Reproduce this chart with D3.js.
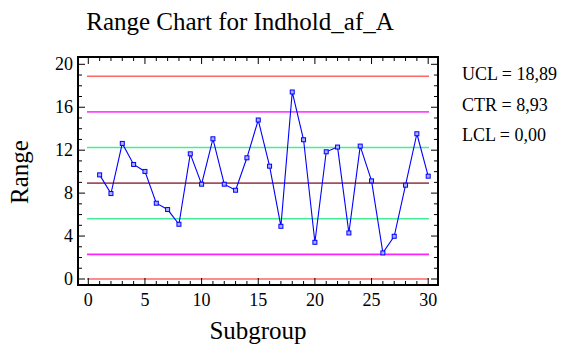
<!DOCTYPE html>
<html><head><meta charset="utf-8">
<script src="https://cdn.jsdelivr.net/npm/d3@7"></script>
<style>body{margin:0;background:#fff}svg{display:block}</style>
</head><body>
<script>
const subgroups = d3.range(1, 31);
const ranges = [9.70,7.96,12.63,10.67,10.02,7.06,6.47,5.10,11.66,8.83,13.06,8.83,8.27,11.29,14.81,10.51,4.91,17.42,12.97,3.42,11.85,12.29,4.29,12.38,9.14,2.43,3.98,8.74,13.53,9.58];
const UCL = 18.89, CTR = 8.93, LCL = 0.00;
const sigma = (UCL - CTR) / 3;
const limitLines = [
  {v: UCL, c: "#ff6666"},
  {v: CTR + 2*sigma, c: "#ff44ff"},
  {v: CTR + sigma, c: "#44ee99"},
  {v: CTR, c: "#a0505e"},
  {v: CTR - sigma, c: "#44ee99"},
  {v: CTR - 2*sigma, c: "#ff22ff"},
  {v: LCL, c: "#ff6666"}
];
const legendLabels = ["UCL = 18,89", "CTR = 8,93", "LCL = 0,00"];
const xTicks = [0,5,10,15,20,25,30];
const yTicks = [0,4,8,12,16,20];

const FONT = "'Liberation Serif', 'Times New Roman', Times, 'DejaVu Serif', serif";
const W = 565, H = 349;
const L = 78, R = 438, T = 57, B = 285;
const svg = d3.select("body").append("svg").attr("width", W).attr("height", H)
  .attr("font-family", FONT);
const x = d3.scaleLinear().domain([0, 30]).range([88.3, 428.2]);
const y = d3.scaleLinear().domain([0, 20]).range([279, 64.3]);

// limit lines
svg.selectAll("line.lim").data(limitLines).join("line")
  .attr("x1", L + 9).attr("x2", R - 9)
  .attr("y1", d => y(d.v)).attr("y2", d => y(d.v))
  .attr("stroke", d => d.c).attr("stroke-width", 1.6);

// data line
svg.append("path").datum(ranges)
  .attr("fill", "none").attr("stroke", "#0000ff").attr("stroke-width", 1.1)
  .attr("d", d3.line().x((d, i) => x(subgroups[i])).y(d => y(d)));
svg.selectAll("rect.pt").data(ranges).join("rect")
  .attr("x", (d, i) => x(subgroups[i]) - 2).attr("y", d => y(d) - 2)
  .attr("width", 4).attr("height", 4)
  .attr("fill", "#aab0ff").attr("stroke", "#0000ff").attr("stroke-width", 1);

// frame
svg.append("rect").attr("x", L).attr("y", T).attr("width", R - L).attr("height", B - T)
  .attr("fill", "none").attr("stroke", "#000").attr("stroke-width", 2);

// ticks (inward)
const yMinor = d3.range(0, 21);
const xMinor = d3.range(0, 31);
const g = svg.append("g").attr("stroke", "#000").attr("stroke-width", 1);
yMinor.forEach(v => {
  const len = v % 4 === 0 ? 7 : 4;
  g.append("line").attr("x1", L).attr("x2", L + len).attr("y1", y(v)).attr("y2", y(v));
  g.append("line").attr("x1", R).attr("x2", R - len).attr("y1", y(v)).attr("y2", y(v));
});
xMinor.forEach(v => {
  const len = v % 5 === 0 ? 7 : 4;
  g.append("line").attr("y1", B).attr("y2", B - len).attr("x1", x(v)).attr("x2", x(v));
  g.append("line").attr("y1", T).attr("y2", T + len).attr("x1", x(v)).attr("x2", x(v));
});

// tick labels
svg.selectAll("text.yt").data(yTicks).join("text")
  .attr("x", L - 5).attr("y", d => y(d) + 6).attr("text-anchor", "end")
  .attr("font-size", 18).text(d => d);
svg.selectAll("text.xt").data(xTicks).join("text")
  .attr("x", d => x(d)).attr("y", B + 21).attr("text-anchor", "middle")
  .attr("font-size", 18).text(d => d);

// titles
svg.append("text").attr("x", 240).attr("y", 30).attr("text-anchor", "middle")
  .attr("font-size", 25).text("Range Chart for Indhold_af_A");
svg.append("text").attr("x", 258).attr("y", 339).attr("text-anchor", "middle")
  .attr("font-size", 25).text("Subgroup");
svg.append("text").attr("transform", "translate(28,172) rotate(-90)").attr("text-anchor", "middle")
  .attr("font-size", 25).text("Range");

// legend
svg.selectAll("text.lg").data(legendLabels).join("text")
  .attr("x", 462).attr("y", (d, i) => 80 + i * 30.5)
  .attr("font-size", 18).text(d => d);
</script>
</body></html>
